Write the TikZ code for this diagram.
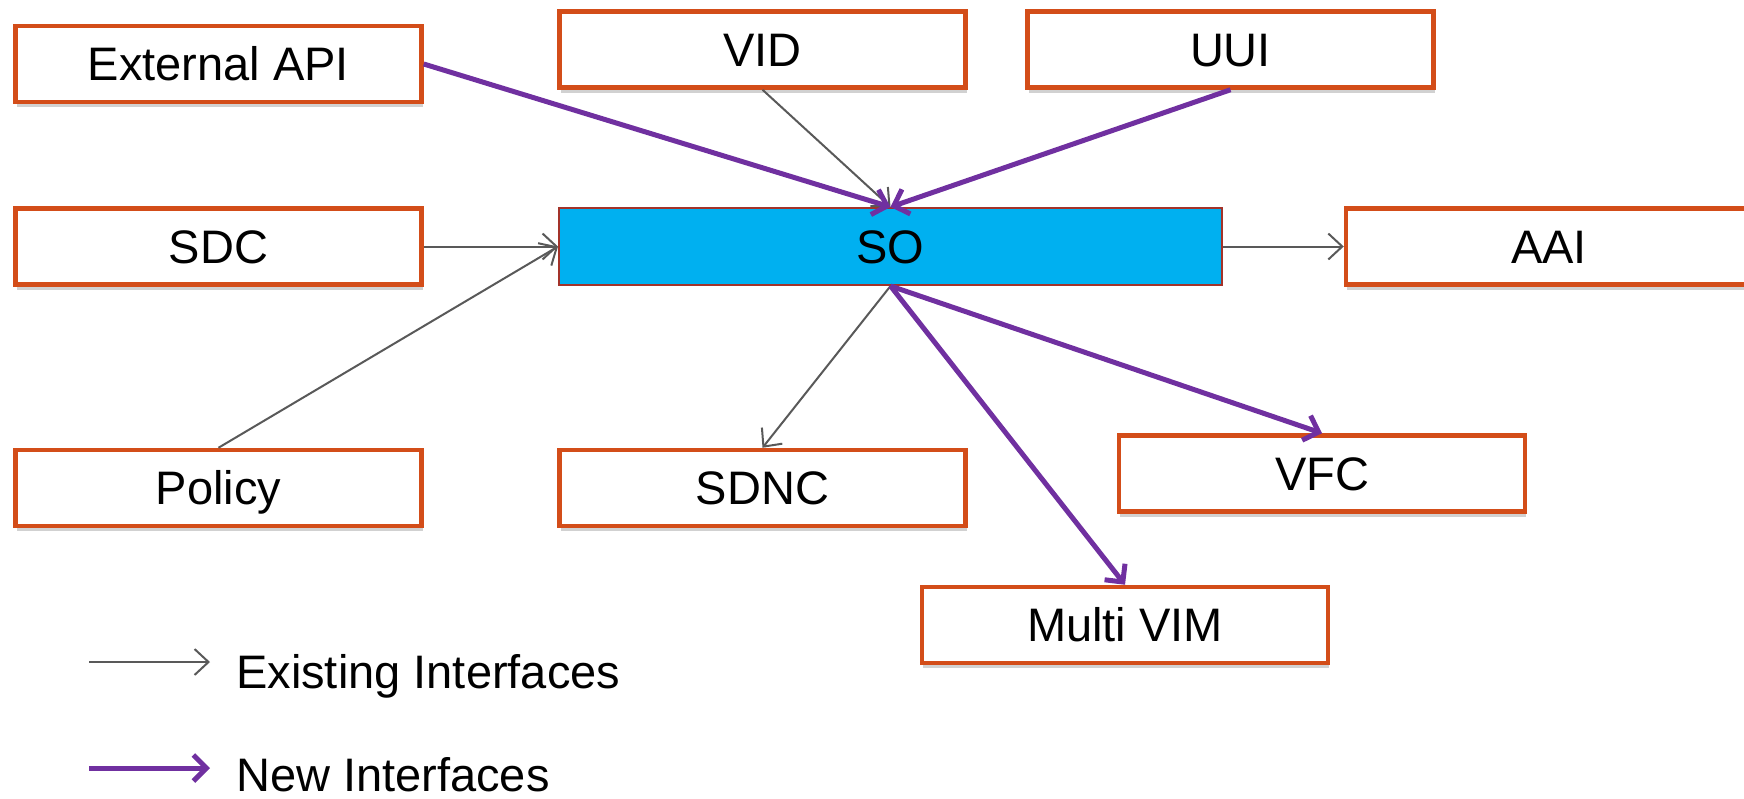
\documentclass[tikz,border=0pt]{standalone}
\usepackage{fontspec}
\setmainfont{Liberation Sans}
\usetikzlibrary{arrows.meta,shadows}
\definecolor{boxborder}{HTML}{D34D19}
\definecolor{sofill}{HTML}{00B0F0}
\definecolor{soborder}{HTML}{A3332A}
\definecolor{oldline}{HTML}{595959}
\definecolor{newline}{HTML}{7030A0}
\tikzset{
  comp/.style={draw=boxborder, line width=4.5pt, fill=white, rectangle,
    minimum width=406pt, minimum height=76pt, inner sep=0pt,
    font=\fontsize{47}{56}\selectfont, text height=33.7pt, text depth=0pt,
    drop shadow={shadow xshift=1pt, shadow yshift=-5pt, opacity=0.18, fill=black}},
  sobox/.style={draw=soborder, line width=2pt, fill=sofill, rectangle,
    minimum width=663pt, minimum height=77pt, inner sep=0pt,
    font=\fontsize{47}{56}\selectfont, text height=33.7pt, text depth=0pt},
  oldif/.style={draw=oldline, line width=2pt, -{Straight Barb[length=14pt,width=26pt,line width=2pt]}},
  newif/.style={draw=newline, line width=5pt, -{Straight Barb[length=13pt,width=26pt,line width=5pt]}},
  legendtext/.style={font=\fontsize{47}{56}\selectfont, inner sep=0pt, text depth=0pt, anchor=base west}
}
\begin{document}
\begin{tikzpicture}[x=1pt,y=-1pt]
\useasboundingbox (0,0) rectangle (1744,798);
\begin{scope}
\clip (0,0) rectangle (1744,798);
\node[comp] (ext)    at (218.5,64)  {External API};
\node[comp] (vid)    at (762.5,49.5) {VID};
\node[comp] (uui)    at (1230.5,49.5) {UUI};
\node[comp] (sdc)    at (218.5,246.5) {SDC};
\node[sobox] (so)    at (890.5,246.5) {SO};
\node[comp] (aai)    at (1549,246.5) {AAI};
\node[comp] (policy) at (218.5,488) {Policy};
\node[comp] (sdnc)   at (762.5,488) {SDNC};
\node[comp] (vfc)    at (1322,473.5) {VFC};
\node[comp] (mvim)   at (1125,625) {Multi VIM};

\draw[oldif] (vid.south) -- (so.north);
\draw[newif] (ext.east) -- (so.north);
\draw[newif] (uui.south) -- (so.north);
\draw[oldif] (sdc.east) -- (so.west);
\draw[oldif] (policy.north) -- (so.west);
\draw[oldif] (so.east) -- (aai.west);
\draw[oldif] (so.south) -- (sdnc.north);
\draw[newif] (so.south) -- (mvim.north);
\draw[newif] (so.south) -- (vfc.north);

\coordinate (l1a) at (89,662);
\coordinate (l1b) at (210,662);
\coordinate (l2a) at (89,768);
\coordinate (l2b) at (210,768);
\draw[oldif] (l1a) -- (l1b);
\draw[newif] (l2a) -- (l2b);
\node[legendtext] (lt1) at (236,688) {Existing Interfaces};
\node[legendtext] (lt2) at (236,791) {New Interfaces};
\end{scope}
\end{tikzpicture}
\end{document}
